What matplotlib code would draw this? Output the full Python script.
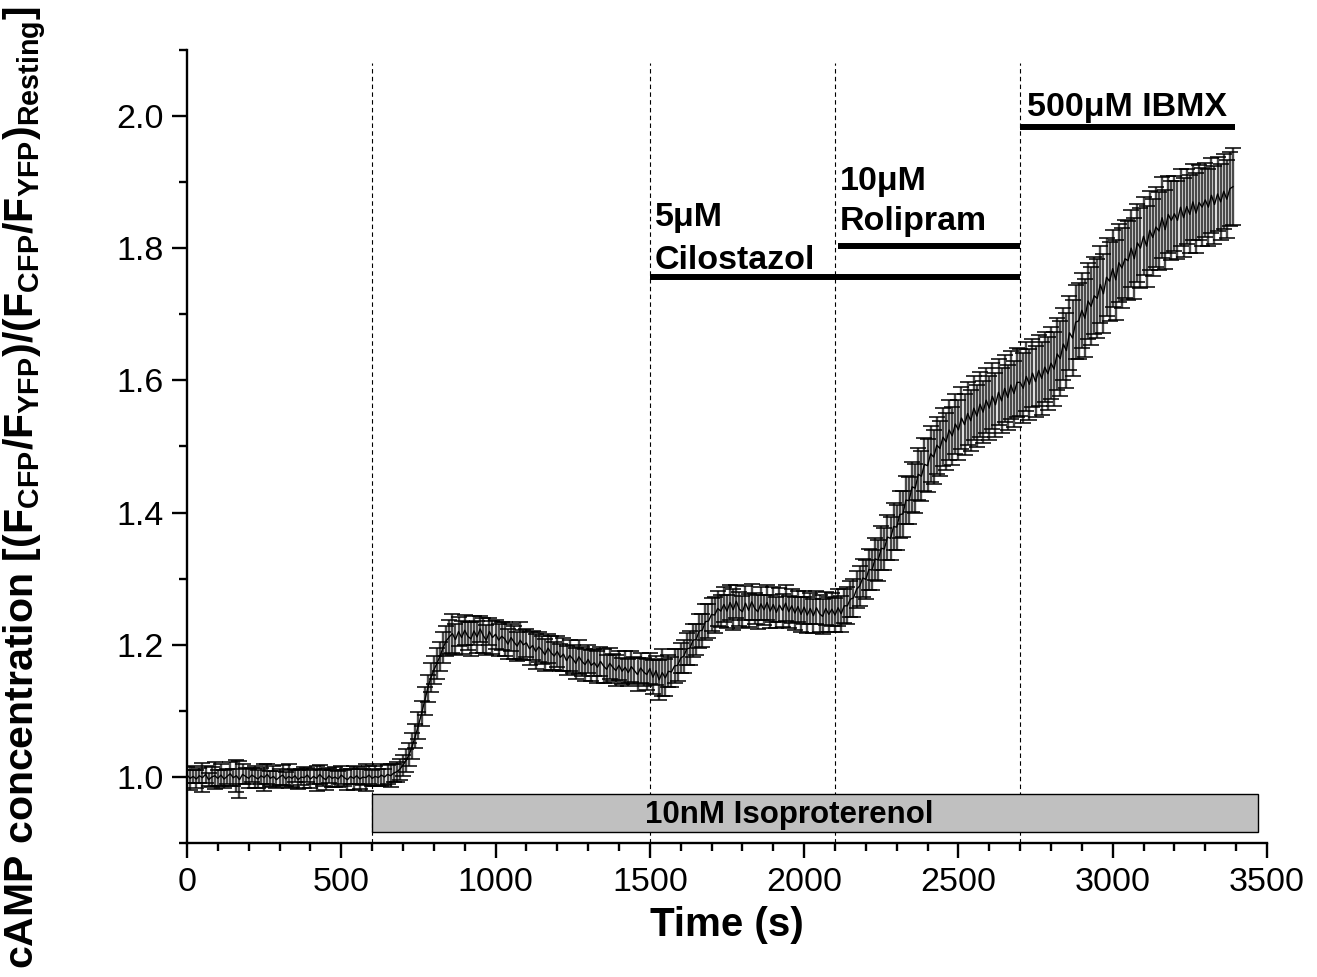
import numpy as np
import matplotlib
matplotlib.use("Agg")
import matplotlib.pyplot as plt
from matplotlib.patches import Rectangle
from matplotlib.ticker import MultipleLocator, FormatStrFormatter

plt.rcParams['font.family'] = ['Liberation Sans', 'DejaVu Sans']
plt.rcParams['mathtext.fontset'] = 'custom'
plt.rcParams['mathtext.bf'] = 'Liberation Sans:bold'
plt.rcParams['mathtext.rm'] = 'Liberation Sans:bold'
plt.rcParams['mathtext.default'] = 'bf'

# sampling every 10 s, 0 .. 3390 s
time_s = np.arange(0, 3400, 10)

# normalised CFP/YFP ratio, one row per 100 s
ratio_mean = [
    1.003, 0.998, 1.001, 0.997, 1.002, 0.999, 1.004, 0.996, 1.000, 1.002,
    0.998, 1.003, 0.997, 1.001, 1.005, 0.999, 1.002, 0.996, 1.004, 1.001,
    0.998, 1.003, 1.000, 0.997, 1.002, 0.999, 1.004, 0.998, 1.001, 0.996,
    1.000, 1.003, 0.997, 1.001, 0.998, 1.002, 0.996, 1.000, 0.999, 1.003,
    0.997, 1.001, 0.998, 1.004, 0.999, 0.996, 1.002, 0.998, 1.000, 0.997,
    1.003, 0.999, 0.996, 1.001, 0.998, 1.002, 0.997, 1.000, 0.999, 1.003,
    0.998, 1.001, 0.999, 1.003, 1.000, 1.004, 1.002, 1.006, 1.008, 1.012,
    1.018, 1.025, 1.034, 1.047, 1.062, 1.078, 1.096, 1.115, 1.134, 1.150,
    1.162, 1.172, 1.183, 1.196, 1.206, 1.212, 1.217, 1.208, 1.220, 1.211,
    1.222, 1.213, 1.209, 1.221, 1.212, 1.224, 1.214, 1.207, 1.220, 1.211,
    1.216, 1.207, 1.213, 1.209, 1.201, 1.211, 1.204, 1.198, 1.207, 1.200,
    1.203, 1.194, 1.199, 1.190, 1.197, 1.192, 1.185, 1.195, 1.188, 1.183,
    1.190, 1.181, 1.186, 1.176, 1.184, 1.179, 1.172, 1.182, 1.175, 1.170,
    1.178, 1.169, 1.173, 1.166, 1.175, 1.168, 1.163, 1.172, 1.166, 1.161,
    1.169, 1.160, 1.166, 1.158, 1.167, 1.161, 1.155, 1.165, 1.159, 1.155,
    1.164, 1.151, 1.161, 1.147, 1.158, 1.150, 1.160, 1.159, 1.168, 1.169,
    1.180, 1.183, 1.194, 1.195, 1.207, 1.208, 1.221, 1.222, 1.235, 1.236,
    1.246, 1.245, 1.255, 1.251, 1.261, 1.251, 1.264, 1.253, 1.266, 1.254,
    1.250, 1.263, 1.252, 1.265, 1.255, 1.250, 1.262, 1.253, 1.264, 1.251,
    1.261, 1.249, 1.260, 1.252, 1.263, 1.250, 1.259, 1.248, 1.258, 1.246,
    1.257, 1.245, 1.255, 1.244, 1.256, 1.247, 1.243, 1.255, 1.246, 1.254,
    1.245, 1.256, 1.247, 1.259, 1.259, 1.269, 1.271, 1.284, 1.289, 1.301,
    1.299, 1.314, 1.313, 1.330, 1.328, 1.346, 1.345, 1.363, 1.361, 1.379,
    1.378, 1.397, 1.398, 1.419, 1.418, 1.439, 1.437, 1.458, 1.455, 1.473,
    1.471, 1.489, 1.484, 1.502, 1.497, 1.514, 1.507, 1.525, 1.516, 1.534,
    1.525, 1.543, 1.533, 1.550, 1.539, 1.558, 1.546, 1.564, 1.552, 1.570,
    1.558, 1.576, 1.563, 1.582, 1.569, 1.588, 1.574, 1.593, 1.580, 1.597,
    1.597, 1.588, 1.606, 1.594, 1.611, 1.598, 1.615, 1.603, 1.620, 1.610,
    1.626, 1.617, 1.640, 1.633, 1.655, 1.645, 1.672, 1.664, 1.688, 1.690,
    1.706, 1.694, 1.720, 1.712, 1.728, 1.724, 1.745, 1.731, 1.756, 1.750,
    1.769, 1.752, 1.778, 1.770, 1.784, 1.781, 1.800, 1.784, 1.808, 1.800,
    1.818, 1.803, 1.827, 1.816, 1.832, 1.826, 1.846, 1.828, 1.851, 1.842,
    1.852, 1.842, 1.862, 1.846, 1.863, 1.851, 1.870, 1.853, 1.869, 1.862,
    1.873, 1.862, 1.880, 1.866, 1.882, 1.870, 1.886, 1.874, 1.890, 1.893,
]

ratio_err = [
    0.012, 0.018, 0.010, 0.014, 0.011, 0.022, 0.013, 0.010, 0.015, 0.020,
    0.012, 0.016, 0.014, 0.011, 0.018, 0.013, 0.024, 0.028, 0.015, 0.012,
    0.014, 0.011, 0.017, 0.013, 0.012, 0.020, 0.015, 0.011, 0.016, 0.013,
    0.012, 0.015, 0.011, 0.018, 0.013, 0.010, 0.014, 0.012, 0.016, 0.011,
    0.013, 0.011, 0.019, 0.014, 0.012, 0.016, 0.011, 0.013, 0.015, 0.012,
    0.014, 0.012, 0.016, 0.011, 0.018, 0.013, 0.015, 0.012, 0.020, 0.014,
    0.012, 0.015, 0.013, 0.016, 0.012, 0.014, 0.017, 0.013, 0.015, 0.016,
    0.016, 0.018, 0.017, 0.019, 0.018, 0.020, 0.019, 0.021, 0.020, 0.022,
    0.021, 0.023, 0.022, 0.024, 0.023, 0.026, 0.030, 0.024, 0.022, 0.025,
    0.023, 0.021, 0.026, 0.022, 0.024, 0.020, 0.027, 0.023, 0.021, 0.025,
    0.022, 0.024, 0.021, 0.026, 0.023, 0.020, 0.025, 0.022, 0.028, 0.023,
    0.021, 0.025, 0.022, 0.027, 0.023, 0.021, 0.024, 0.022, 0.026, 0.021,
    0.023, 0.020, 0.025, 0.022, 0.024, 0.021, 0.023, 0.026, 0.022, 0.024,
    0.021, 0.023, 0.020, 0.024, 0.022, 0.025, 0.021, 0.023, 0.020, 0.024,
    0.022, 0.020, 0.024, 0.021, 0.023, 0.020, 0.025, 0.022, 0.021, 0.023,
    0.024, 0.026, 0.022, 0.030, 0.036, 0.028, 0.024, 0.023, 0.025, 0.024,
    0.023, 0.025, 0.024, 0.026, 0.025, 0.024, 0.026, 0.025, 0.027, 0.026,
    0.025, 0.027, 0.026, 0.024, 0.026, 0.025, 0.027, 0.031, 0.025, 0.026,
    0.024, 0.026, 0.025, 0.027, 0.024, 0.026, 0.025, 0.023, 0.026, 0.025,
    0.027, 0.024, 0.026, 0.025, 0.027, 0.024, 0.026, 0.025, 0.024, 0.026,
    0.025, 0.027, 0.024, 0.026, 0.025, 0.028, 0.026, 0.025, 0.027, 0.025,
    0.026, 0.028, 0.027, 0.026, 0.028, 0.027, 0.029, 0.028, 0.030, 0.029,
    0.030, 0.031, 0.030, 0.032, 0.031, 0.033, 0.032, 0.034, 0.033, 0.035,
    0.034, 0.036, 0.035, 0.037, 0.036, 0.038, 0.037, 0.039, 0.038, 0.040,
    0.040, 0.042, 0.041, 0.043, 0.042, 0.044, 0.043, 0.045, 0.044, 0.046,
    0.045, 0.047, 0.046, 0.048, 0.046, 0.048, 0.047, 0.049, 0.047, 0.049,
    0.048, 0.050, 0.048, 0.050, 0.049, 0.051, 0.049, 0.051, 0.050, 0.052,
    0.051, 0.053, 0.052, 0.054, 0.052, 0.054, 0.053, 0.055, 0.053, 0.055,
    0.054, 0.056, 0.055, 0.057, 0.055, 0.057, 0.056, 0.058, 0.056, 0.058,
    0.057, 0.059, 0.057, 0.059, 0.058, 0.060, 0.058, 0.060, 0.059, 0.060,
    0.058, 0.060, 0.059, 0.061, 0.059, 0.060, 0.058, 0.061, 0.059, 0.060,
    0.059, 0.061, 0.060, 0.058, 0.060, 0.059, 0.061, 0.060, 0.058, 0.060,
    0.057, 0.059, 0.058, 0.060, 0.057, 0.059, 0.058, 0.060, 0.057, 0.059,
    0.056, 0.058, 0.057, 0.059, 0.056, 0.058, 0.057, 0.059, 0.056, 0.058,
]

# drug additions (s)
drug_times = [600, 1500, 2100, 2700]
iso_span = (600, 3470)
cilo_span = (1500, 2700)
roli_span = (2110, 2700)
ibmx_span = (2700, 3395)

fig = plt.figure(figsize=(13.17, 9.77), dpi=100)
ax = fig.add_axes([0.142, 0.137, 0.820, 0.812])

mean = np.array(ratio_mean)
err = np.array(ratio_err)

# grey error bars, black caps, black mean trace
ax.errorbar(time_s, mean, yerr=err, fmt='none', ecolor='#4a4a4a',
            elinewidth=1.7, capsize=0, zorder=2)
ax.plot(time_s, mean + err, ls='none', marker='_', ms=11, mew=1.1, color='black', zorder=2)
ax.plot(time_s, mean - err, ls='none', marker='_', ms=11, mew=1.1, color='black', zorder=2)
ax.plot(time_s, mean, color='black', lw=1.0, zorder=2.5)

ax.vlines(drug_times, 0.9, 2.08, colors='black', linestyles=(0, (4, 3)), lw=0.8, zorder=1)

ax.add_patch(Rectangle((iso_span[0], 0.917), iso_span[1] - iso_span[0], 0.057,
                       facecolor='#c0c0c0', edgecolor='black', lw=1.0, zorder=3))
ax.text(1951, 0.943, '10nM Isoproterenol', ha='center', va='center',
        fontsize=22.5, fontweight='bold', zorder=4)

ax.plot(cilo_span, [1.756, 1.756], color='black', lw=4.3, solid_capstyle='butt')
ax.plot(roli_span, [1.804, 1.804], color='black', lw=4.3, solid_capstyle='butt')
ax.plot(ibmx_span, [1.983, 1.983], color='black', lw=4.3, solid_capstyle='butt')

txt = dict(fontsize=24.5, fontweight='bold', ha='left', va='baseline')
ax.text(1516, 1.833, '5\u03bcM', **txt)
ax.text(1516, 1.769, 'Cilostazol', **txt)
ax.text(2116, 1.888, '10\u03bcM', **txt)
ax.text(2116, 1.827, 'Rolipram', **txt)
ax.text(2722, 2.000, '500\u03bcM IBMX', **txt)

ax.set_xlim(0, 3500)
ax.set_ylim(0.9, 2.1)
ax.xaxis.set_major_locator(MultipleLocator(500))
ax.xaxis.set_minor_locator(MultipleLocator(100))
ax.yaxis.set_major_locator(MultipleLocator(0.2))
ax.yaxis.set_minor_locator(MultipleLocator(0.1))
ax.yaxis.set_major_formatter(FormatStrFormatter('%.1f'))

for side in ['top', 'right']:
    ax.spines[side].set_visible(False)
for side in ['left', 'bottom']:
    ax.spines[side].set_linewidth(1.7)

ax.tick_params(which='major', direction='out', length=11, width=1.7, labelsize=24.5, pad=6)
ax.tick_params(which='minor', direction='out', length=6, width=1.7)

ax.set_xlabel('Time (s)', fontsize=29, fontweight='bold', labelpad=6)
ax.set_ylabel('cAMP concentration [(F$_{CFP}$/F$_{YFP}$)/(F$_{CFP}$/F$_{YFP}$)$_{Resting}$]',
              fontsize=29.5, fontweight='bold')
ax.yaxis.set_label_coords(-0.128, 0.448)

fig.savefig('out.png', dpi=100)
